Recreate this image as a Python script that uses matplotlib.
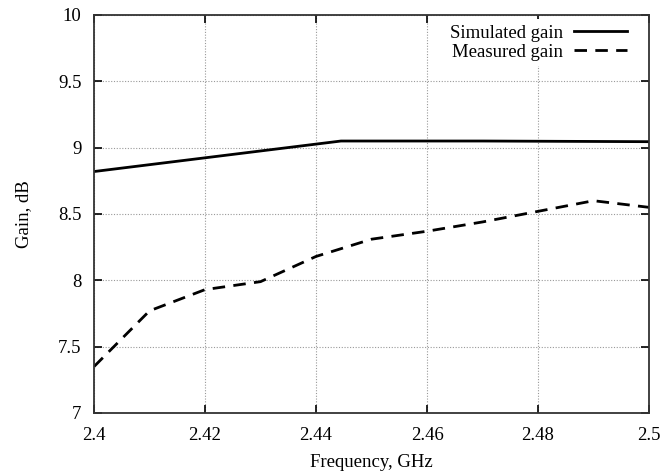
import matplotlib
matplotlib.use("Agg")
import matplotlib.pyplot as plt

freq_sim = [2.40, 2.4445, 2.47, 2.50]
gain_sim = [8.82, 9.05, 9.05, 9.045]

freq_meas = [2.40, 2.41, 2.42, 2.43, 2.44, 2.45, 2.46, 2.47, 2.48, 2.49, 2.50]
gain_meas = [7.35, 7.77, 7.93, 7.99, 8.18, 8.31, 8.37, 8.44, 8.52, 8.60, 8.55]

xticks = [2.40, 2.42, 2.44, 2.46, 2.48, 2.50]
xticklabels = ["2.4", "2.42", "2.44", "2.46", "2.48", "2.5"]
yticks = [7, 7.5, 8, 8.5, 9, 9.5, 10]
yticklabels = ["7", "7.5", "8", "8.5", "9", "9.5", "10"]

plt.rcParams['font.family'] = ['Liberation Serif', 'DejaVu Serif']

fig = plt.figure(figsize=(6.65, 4.74), dpi=100)
ax = fig.add_axes([0.1414, 0.1287, 0.976 - 0.1414, 0.9684 - 0.1287])

ax.plot(freq_sim, gain_sim, color='black', lw=2.0, ls='-', label='Simulated gain')
ax.plot(freq_meas, gain_meas, color='black', lw=2.0, ls=(0, (4.5, 3)), label='Measured gain')

ax.set_xlim(2.40, 2.50)
ax.set_ylim(7, 10)
ax.set_xticks(xticks)
ax.set_xticklabels(xticklabels)
ax.set_yticks(yticks)
ax.set_yticklabels(yticklabels)
ax.tick_params(direction='in', top=True, right=True, length=6, width=1.2, labelsize=13.5)
ax.tick_params(axis='x', pad=10)
ax.tick_params(axis='y', pad=9)
ax.grid(True, ls=(0, (1, 1.5)), color='#999999', lw=0.8)
for s in ax.spines.values():
    s.set_linewidth(1.3)
    s.set_color('#333333')

ax.set_xlabel('Frequency, GHz', fontsize=13.5, labelpad=7)
ax.set_ylabel('Gain, dB', fontsize=13.5, labelpad=19)

leg = ax.legend(loc='upper right', bbox_to_anchor=(0.970, 0.99), markerfirst=False,
                frameon=True, fontsize=13.5, handlelength=2.8, borderaxespad=0.0,
                borderpad=0.3, labelspacing=0.1, handletextpad=0.6)
leg.get_frame().set_facecolor('white')
leg.get_frame().set_edgecolor('none')
leg.get_frame().set_alpha(1.0)

fig.savefig('out.png', dpi=100)
